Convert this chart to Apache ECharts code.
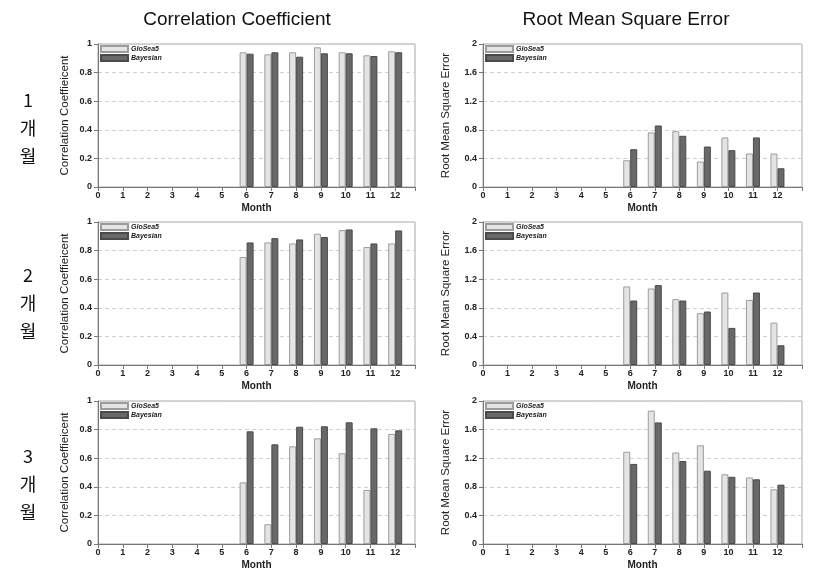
<!DOCTYPE html>
<html>
<head>
<meta charset="utf-8">
<script src="https://cdn.jsdelivr.net/npm/echarts@6/dist/echarts.min.js"></script>
<style>
html,body{margin:0;padding:0;background:#fff;}
#chart{width:818px;height:571px;}
</style>
</head>
<body>
<div id="chart"></div>
<script>
// ---- data ----
var months = [6, 7, 8, 9, 10, 11, 12];
var seriesNames = ['GloSea5', 'Bayesian'];
var xTicks = [0, 1, 2, 3, 4, 5, 6, 7, 8, 9, 10, 11, 12];
var colTitles = ['Correlation Coefficient', 'Root Mean Square Error'];
var rowLabels = ['1', '2', '3'];
var rowUnit = '개월';

var cc1G = [0.942, 0.928, 0.942, 0.977, 0.942, 0.921, 0.949];
var cc1B = [0.932, 0.942, 0.911, 0.935, 0.935, 0.916, 0.942];
var rm1G = [0.374, 0.763, 0.780, 0.356, 0.693, 0.468, 0.468];
var rm1B = [0.528, 0.860, 0.716, 0.566, 0.515, 0.693, 0.262];

var cc2G = [0.755, 0.857, 0.850, 0.918, 0.943, 0.825, 0.850];
var cc2B = [0.857, 0.887, 0.878, 0.895, 0.948, 0.850, 0.941];
var rm2G = [1.098, 1.070, 0.921, 0.725, 1.014, 0.910, 0.593];
var rm2B = [0.902, 1.117, 0.902, 0.748, 0.519, 1.014, 0.276];

var cc3G = [0.431, 0.138, 0.683, 0.739, 0.634, 0.378, 0.770];
var cc3B = [0.788, 0.697, 0.820, 0.823, 0.851, 0.809, 0.795];
var rm3G = [1.290, 1.865, 1.280, 1.380, 0.975, 0.930, 0.765];
var rm3B = [1.120, 1.700, 1.160, 1.025, 0.940, 0.905, 0.830];

var panels = [
  [cc1G, cc1B, rm1G, rm1B],
  [cc2G, cc2B, rm2G, rm2B],
  [cc3G, cc3B, rm3G, rm3B]
];

// ---- layout ----
var rowTops = [44, 222, 401];
var plotH = 143;
var colLeft = [98, 483];
var colW = [317, 319];
var colXMax = [12.8, 13];
var colYMax = [1, 2];
var colYInt = [0.2, 0.4];
var colYName = ['Correlation Coeffieicent', 'Root Mean Square Error'];
var colYNameGap = [27, 31];
var colYNameSize = [11.5, 11.5];
var colTitleX = [237, 626];

var FONT = 'Liberation Sans, Arial, sans-serif';

var grids = [], xAxes = [], yAxes = [], series = [], legends = [], graphics = [];

function pairs(vals) {
  return vals.map(function (v, i) { return [months[i], v]; });
}

var idx = 0;
for (var r = 0; r < 3; r++) {
  for (var c = 0; c < 2; c++) {
    grids.push({
      left: colLeft[c], top: rowTops[r], width: colW[c], height: plotH,
      show: true, borderColor: '#a8a8a8', borderWidth: 1, backgroundColor: 'transparent'
    });
    xAxes.push({
      type: 'value', gridIndex: idx, min: 0, max: colXMax[c], interval: 1,
      name: 'Month', nameLocation: 'middle', nameGap: 16,
      nameTextStyle: { fontFamily: FONT, fontSize: 10, fontWeight: 'bold', color: '#222' },
      axisLine: { show: true, lineStyle: { color: '#777', width: 1 } },
      axisTick: { show: true, inside: false, length: 4, lineStyle: { color: '#777' } },
      axisLabel: {
        margin: 4, fontFamily: FONT, fontSize: 9, fontWeight: 'bold', color: '#222',
        formatter: function (v) { return xTicks.indexOf(v) >= 0 ? String(v) : ''; }
      },
      splitLine: { show: false }
    });
    yAxes.push({
      type: 'value', gridIndex: idx, min: 0, max: colYMax[c], interval: colYInt[c],
      name: colYName[c], nameLocation: 'middle', nameGap: colYNameGap[c],
      nameTextStyle: { fontFamily: FONT, fontSize: colYNameSize[c], color: '#222' },
      axisLine: { show: true, lineStyle: { color: '#777', width: 1 } },
      axisTick: { show: true, inside: false, length: 4, lineStyle: { color: '#777' } },
      axisLabel: {
        margin: 6, fontFamily: FONT, fontSize: 9, fontWeight: 'bold', color: '#222',
        formatter: function (v) { return String(Math.round(v * 10) / 10); }
      },
      splitLine: { show: true, lineStyle: { color: '#cfcfcf', type: [4, 3], width: 1 } }
    });
    var d = panels[r];
    series.push({
      name: seriesNames[0], type: 'bar', xAxisIndex: idx, yAxisIndex: idx,
      data: pairs(d[c * 2]), barWidth: 7, barGap: '0%',
      itemStyle: { color: '#e4e4e4', borderColor: '#9c9c9c', borderWidth: 1 },
      animation: false
    });
    series.push({
      name: seriesNames[1], type: 'bar', xAxisIndex: idx, yAxisIndex: idx,
      data: pairs(d[c * 2 + 1]), barWidth: 7, barGap: '0%',
      itemStyle: { color: '#686868', borderColor: '#4a4a4a', borderWidth: 1 },
      animation: false
    });
    legends.push({
      data: seriesNames, orient: 'vertical', left: colLeft[c] + 2, top: rowTops[r] + 1,
      itemWidth: 27, itemHeight: 6, itemGap: 1, padding: 0, icon: 'rect',
      selectedMode: false,
      textStyle: { fontFamily: FONT, fontSize: 7, fontWeight: 'bold', fontStyle: 'italic', color: '#222', padding: [0, 0, 0, -2] }
    });
    idx++;
  }
}

// column titles
for (var c2 = 0; c2 < 2; c2++) {
  graphics.push({
    type: 'text',
    x: colTitleX[c2], y: 20,
    style: {
      text: colTitles[c2], fill: '#111', font: '19px ' + FONT,
      textAlign: 'center', textVerticalAlign: 'middle'
    }
  });
}
// row labels
var rowLabelY = [100, 275, 456];
for (var r2 = 0; r2 < 3; r2++) {
  var lines = [rowLabels[r2], rowUnit.charAt(0), rowUnit.charAt(1)];
  for (var k = 0; k < 3; k++) {
    graphics.push({
      type: 'text',
      x: 28, y: rowLabelY[r2] + k * 28,
      style: {
        text: lines[k], fill: '#111',
        font: '18px "Noto Sans CJK KR", ' + FONT,
        textAlign: 'center', textVerticalAlign: 'middle'
      }
    });
  }
}

var chart = echarts.init(document.getElementById('chart'), null, { renderer: 'canvas' });
chart.setOption({
  backgroundColor: '#ffffff',
  animation: false,
  grid: grids,
  xAxis: xAxes,
  yAxis: yAxes,
  legend: legends,
  series: series,
  graphic: graphics
});
</script>
</body>
</html>
